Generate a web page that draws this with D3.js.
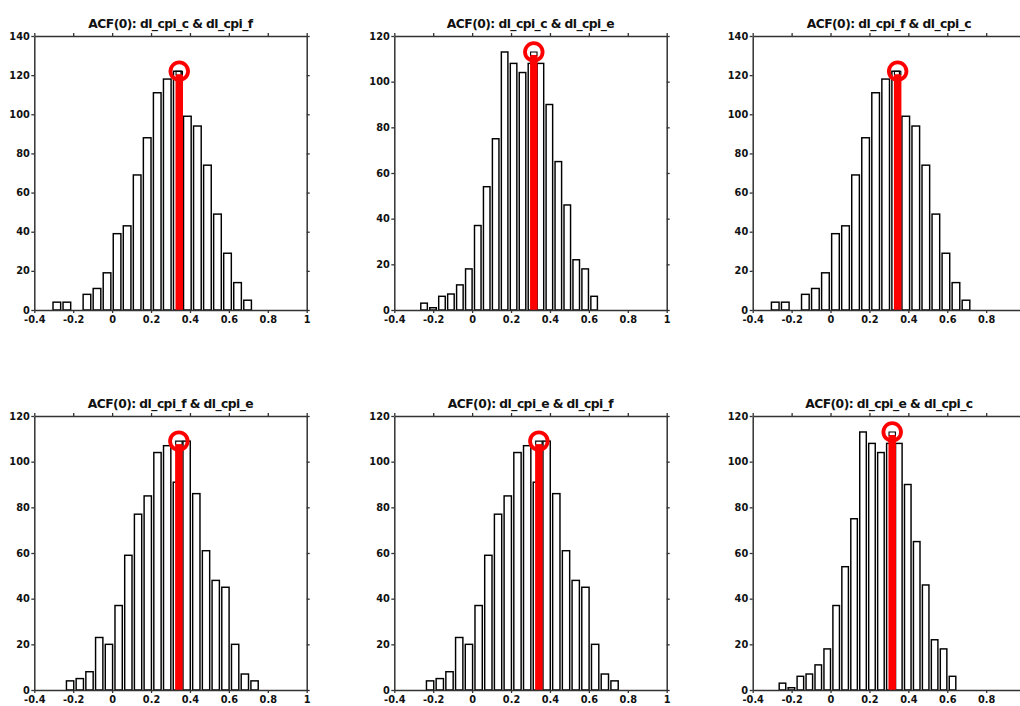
<!DOCTYPE html>
<html>
<head>
<meta charset="utf-8">
<script src="https://cdn.jsdelivr.net/npm/d3@7"></script>
<style>
  html, body { margin: 0; padding: 0; background: #fff; }
  svg { display: block; }
</style>
</head>
<body>
<svg id="chart" width="1020" height="706"></svg>
<script>
// ---------- data ----------
const titles = [
  "ACF(0): dl_cpi_c & dl_cpi_f",
  "ACF(0): dl_cpi_c & dl_cpi_e",
  "ACF(0): dl_cpi_f & dl_cpi_c",
  "ACF(0): dl_cpi_f & dl_cpi_e",
  "ACF(0): dl_cpi_e & dl_cpi_f",
  "ACF(0): dl_cpi_e & dl_cpi_c"
];
// bootstrap histogram counts (20 bins each)
const countsCF = [4, 4, 0, 8, 11, 19, 39, 43, 69, 88, 111, 118, 122, 99, 94, 74, 49, 29, 14, 5];
const countsCE = [3, 1, 6, 7, 11, 18, 37, 54, 75, 113, 108, 104, 108, 108, 90, 65, 46, 22, 18, 6];
const countsFE = [4, 5, 8, 23, 20, 37, 59, 77, 85, 104, 107, 91, 109, 86, 61, 48, 45, 20, 7, 4];
// first bin edge and bin width of each histogram
const binStart = { CF: -0.31, CE: -0.27, FE: -0.241 };
const binWidth = { CF: 0.0516, CE: 0.046, FE: 0.0499 };
// observed sample ACF(0) value (red stem)
const observed = { CF: 0.345, CE: 0.317, FE: 0.343 };
// panel -> dataset and y-axis maximum
const panelSet = ["CF", "CE", "CF", "FE", "FE", "CE"];
const yMaxes = [140, 120, 140, 120, 120, 120];
const xDomain = [-0.4, 1];
const xTicks = [-0.4, -0.2, 0, 0.2, 0.4, 0.6, 0.8, 1];
const xTickLabels = ["-0.4", "-0.2", "0", "0.2", "0.4", "0.6", "0.8", "1"];
const yTickStep = 20;

const countsBySet = { CF: countsCF, CE: countsCE, FE: countsFE };

// ---------- layout ----------
const W = 1020, H = 706;
const colLeft = [34.3, 394.3, 752.7];
const rowTop = [36, 416];
const plotW = 272.4, plotH = 274;

const svg = d3.select("#chart");
svg.append("rect").attr("width", W).attr("height", H).attr("fill", "#fff");

const FONT = "'DejaVu Sans', Verdana, sans-serif";

titles.forEach((title, p) => {
  const set = panelSet[p];
  const counts = countsBySet[set];
  const start = binStart[set], w = binWidth[set];
  const obs = observed[set];
  const yMax = yMaxes[p];
  const left = colLeft[p % 3], top = rowTop[Math.floor(p / 3)];

  const g = svg.append("g").attr("transform", `translate(${left},${top})`);
  const x = d3.scaleLinear().domain(xDomain).range([0, plotW]);
  const y = d3.scaleLinear().domain([0, yMax]).range([plotH, 0]);

  // bars
  const bins = counts.map((c, i) => ({ x0: start + i * w, x1: start + (i + 1) * w, c }));
  g.append("g").selectAll("rect")
    .data(bins.filter(b => b.c > 0))
    .join("rect")
    .attr("x", b => x(b.x0) + 1.2)
    .attr("width", b => x(b.x1) - x(b.x0) - 2.4)
    .attr("y", b => y(b.c))
    .attr("height", b => y(0) - y(b.c))
    .attr("fill", "#fff")
    .attr("stroke", "#000")
    .attr("stroke-width", 1.45);

  // observed value stem + circle
  const maxC = d3.max(counts);
  const cx = x(obs), cy = y(maxC);
  g.append("rect")
    .attr("x", cx - 3.75).attr("width", 7.5)
    .attr("y", cy + 3).attr("height", y(0) - cy - 3)
    .attr("fill", "#ff0000");
  g.append("path")
    .attr("d", `M${cx - 3.2},${cy + 3.5}V${cy}H${cx + 3.2}V${cy + 3.5}`)
    .attr("fill", "none").attr("stroke", "#000").attr("stroke-width", 1.1);
  g.append("circle")
    .attr("cx", cx).attr("cy", cy).attr("r", 8.8)
    .attr("fill", "none").attr("stroke", "#ff0000").attr("stroke-width", 3.8);

  // axes (ticks outward on all four sides)
  const yTicks = d3.range(0, yMax + 0.001, yTickStep);
  const axStyle = sel => {
    sel.selectAll(".domain").attr("stroke", "#333").attr("stroke-width", 1.5);
    sel.selectAll(".tick line").attr("stroke", "#333").attr("stroke-width", 1.3);
    sel.selectAll("text").attr("font-family", FONT).attr("font-weight", "bold")
      .attr("font-size", "9.8px").attr("fill", "#111");
  };
  // labels whose position would fall past the picture's right edge are not shown
  const visibleX = xTicks.filter(d => left + x(d) < W - 4);
  g.append("g").attr("transform", `translate(0,${plotH})`)
    .call(d3.axisBottom(x).tickValues(xTicks)
      .tickFormat(d => visibleX.includes(d) ? xTickLabels[xTicks.indexOf(d)] : "")
      .tickSize(3).tickSizeOuter(0).tickPadding(3))
    .call(axStyle);
  g.append("g")
    .call(d3.axisTop(x).tickValues(xTicks).tickFormat("").tickSize(3).tickSizeOuter(0))
    .call(axStyle);
  g.append("g")
    .call(d3.axisLeft(y).tickValues(yTicks).tickFormat(d3.format("d"))
      .tickSize(3).tickSizeOuter(0).tickPadding(1.5))
    .call(axStyle);
  g.append("g").attr("transform", `translate(${plotW},0)`)
    .call(d3.axisRight(y).tickValues(yTicks).tickFormat("").tickSize(3).tickSizeOuter(0))
    .call(axStyle);

  // title
  g.append("text")
    .attr("x", plotW / 2).attr("y", -8.5)
    .attr("text-anchor", "middle")
    .attr("font-family", FONT).attr("font-weight", "bold")
    .attr("font-size", "12.3px").attr("letter-spacing", "-0.55px")
    .attr("fill", "#111")
    .text(title);
});
</script>
</body>
</html>
